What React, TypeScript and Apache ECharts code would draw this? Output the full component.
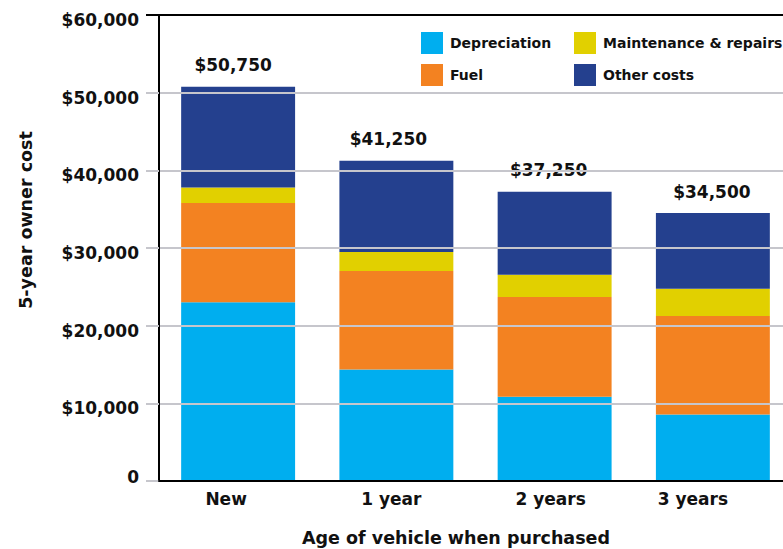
import React, { useEffect, useRef } from "react";
import * as echarts from "echarts";

const categories = ["New", "1 year", "2 years", "3 years"];
const seriesNames = ["Depreciation", "Fuel", "Maintenance & repairs", "Other costs"];
const depreciation = [23000, 14350, 10850, 8550];
const fuel = [12800, 12700, 12850, 12700];
const maintenance = [2000, 2450, 2850, 3500];
const otherCosts = [12950, 11750, 10700, 9750];
const yMin = 0;
const yMax = 60000;
const yStep = 10000;

const colors = ["#00AEEF", "#F38221", "#E1D000", "#24408E"];
const FONT = "DejaVu Sans";
const TEXT = "#111111";
const GRID_GRAY = "#C6C6CC";
// horizontal nudges (px, leftwards) of the category labels and total labels, as in the reference
const labelNudge = [12, 5, 4, 20];
const totalNudge = [5, 8, 6, 1];

const fmtMoney = (v: number) => (v === 0 ? "0" : "$" + v.toLocaleString("en-US"));

export default function App() {
  const ref = useRef<HTMLDivElement>(null);
  useEffect(() => {
    if (!ref.current) return;
    const chart = echarts.init(ref.current, null, { renderer: "svg" });
    const values = [depreciation, fuel, maintenance, otherCosts];
    const totals = categories.map((_, i) => values.reduce((s, arr) => s + arr[i], 0));
    const nLines = Math.round((yMax - yMin) / yStep) + 1;
    const splitColors = Array.from({ length: nLines }, (_, i) => (i === nLines - 1 ? "#000000" : GRID_GRAY));

    const legendText = { fontFamily: FONT, fontWeight: "bold" as const, fontSize: 14, color: TEXT, padding: [0, 0, 0, 2] };
    const tickText = { fontFamily: FONT, fontWeight: "bold" as const, fontSize: 17, color: TEXT };
    const last = values.length - 1;

    chart.setOption({
      animation: false,
      backgroundColor: "#ffffff",
      textStyle: { fontFamily: FONT },
      grid: { left: 159, top: 15, width: 633, height: 466, containLabel: false, outerBoundsMode: "none" },
      legend: [
        {
          left: 421, top: 32, padding: 0, orient: "vertical", itemWidth: 22, itemHeight: 22, itemGap: 10,
          icon: "rect", selectedMode: false, data: [seriesNames[0], seriesNames[1]], textStyle: legendText,
        },
        {
          left: 574, top: 32, padding: 0, orient: "vertical", itemWidth: 22, itemHeight: 22, itemGap: 10,
          icon: "rect", selectedMode: false, data: [seriesNames[2], seriesNames[3]], textStyle: legendText,
        },
      ],
      xAxis: {
        type: "category",
        data: categories.map((c, i) => ({ value: c, textStyle: { padding: [0, labelNudge[i] * 2, 0, 0] } })),
        axisLine: { lineStyle: { color: "#000", width: 2 } },
        axisTick: { inside: true, length: 10, lineStyle: { color: "#000", width: 2 } },
        axisLabel: { ...tickText, margin: 9 },
        z: 5,
      },
      yAxis: {
        type: "value",
        min: yMin,
        max: yMax,
        interval: yStep,
        axisLine: { show: true, lineStyle: { color: "#000", width: 2 } },
        axisTick: { show: true, length: 13, lineStyle: { color: GRID_GRAY, width: 2 } },
        splitLine: { show: true, lineStyle: { color: splitColors, width: 2 } },
        axisLabel: {
          ...tickText,
          margin: 20,
          formatter: (v: number) => (v === 0 ? "{z|0}" : "{m|" + fmtMoney(v) + "}"),
          rich: {
            m: { ...tickText, padding: [10, 0, 0, 0] },
            z: { ...tickText, padding: [0, 0, 8, 0] },
          },
        },
        z: 4,
      },
      series: values.map((arr, si) => ({
        name: seriesNames[si],
        type: "bar",
        stack: "total",
        barWidth: "72%",
        data:
          si === last
            ? arr.map((v, i) => ({ value: v, label: { offset: [-totalNudge[i], 0] } }))
            : arr,
        itemStyle: { color: colors[si] },
        label:
          si === last
            ? {
                show: true, position: "top", distance: 13, ...tickText,
                formatter: (p: any) => fmtMoney(totals[p.dataIndex]),
              }
            : { show: false },
      })),
      graphic: [
        {
          type: "text", id: "yname", x: 26, y: 220, rotation: Math.PI / 2,
          style: { text: "5-year owner cost", fontFamily: FONT, fontWeight: "bold", fontSize: 17.5, fill: TEXT, textAlign: "center", textVerticalAlign: "middle" },
        },
        {
          type: "text", id: "xname", x: 456, y: 538,
          style: { text: "Age of vehicle when purchased", fontFamily: FONT, fontWeight: "bold", fontSize: 17.5, fill: TEXT, textAlign: "center", textVerticalAlign: "middle" },
        },
      ],
    });

    const yTop = chart.convertToPixel({ yAxisIndex: 0 }, yMax) as number;
    chart.setOption({
      graphic: [
        {
          type: "line", id: "topTick", z: 10,
          shape: { x1: 146, y1: yTop, x2: 159, y2: yTop },
          style: { stroke: "#000", lineWidth: 2 },
        },
      ],
    });

    return () => chart.dispose();
  }, []);
  return <div ref={ref} style={{ position: "fixed", left: 0, top: 0, width: 783, height: 549 }} />;
}
